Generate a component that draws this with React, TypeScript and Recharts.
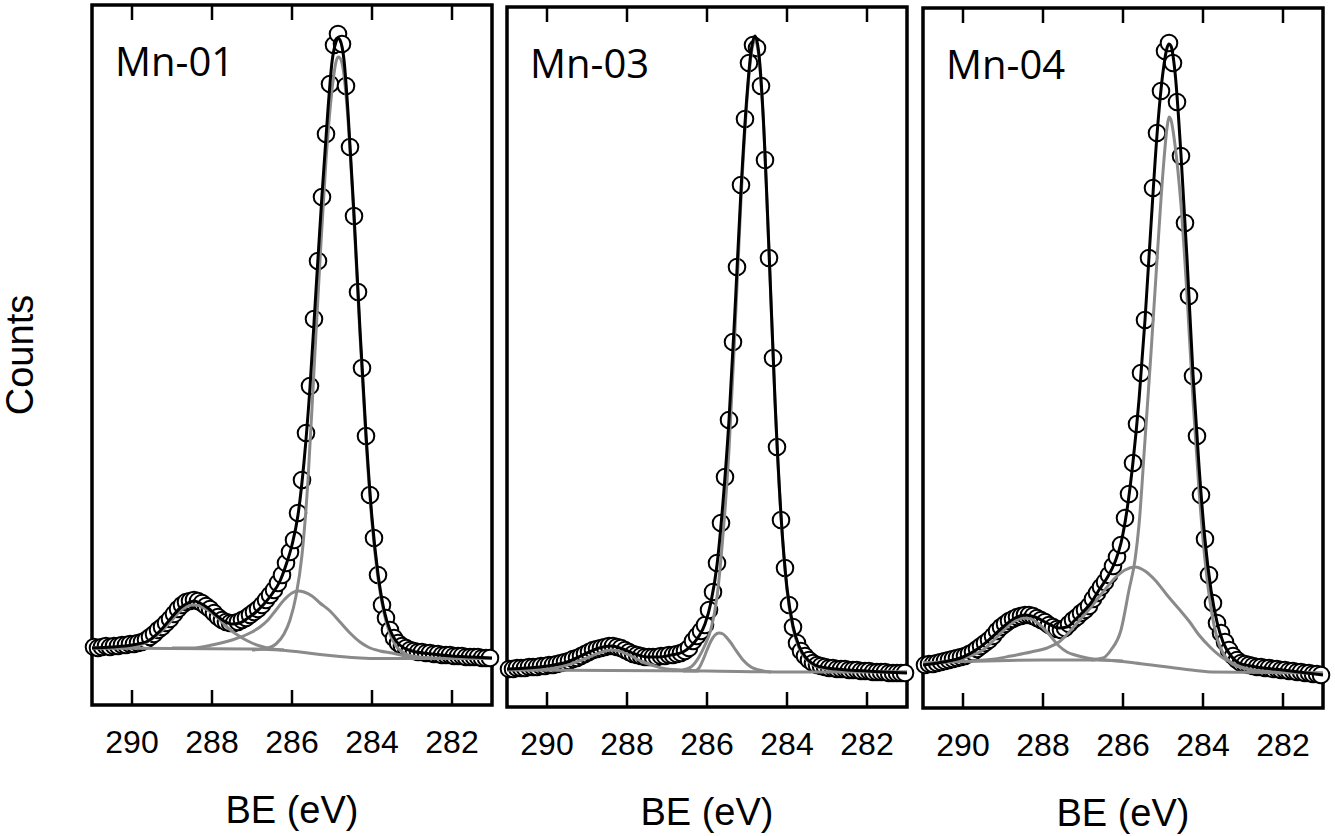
import React from 'react';
import { ComposedChart, Scatter, Line, XAxis, YAxis, ReferenceArea } from 'recharts';

// binding energy of each recorded point (eV), 0.1 eV steps, high -> low
const BE_GRID = Array.from({ length: 100 }, (_, i) => +(290.95 - 0.1 * i).toFixed(2));
const BE_TICKS = [290, 288, 286, 284, 282];

// counts, arbitrary units
const MN01_OBS = [
  58, 57, 58, 59, 58, 59, 59, 60, 60, 61,
  61, 62, 63, 65, 68, 71, 75, 78, 82, 86,
  91, 96, 100, 103, 104, 105, 104, 102, 99, 96,
  92, 88, 85, 83, 82, 82, 83, 85, 87, 90,
  93, 96, 100, 105, 110, 115, 122, 130, 142, 153,
  165, 192, 225, 272, 319, 386, 444, 508, 571, 621,
  660, 671, 661, 619, 558, 489, 413, 337, 269, 210,
  167, 130, 100, 87, 75, 67, 62, 59, 57, 55,
  54, 53, 53, 52, 52, 51, 51, 50, 50, 50,
  49, 49, 49, 48, 48, 48, 48, 47, 47, 47,
];
const MN03_OBS = [
  38, 38, 39, 39, 39, 40, 40, 40, 41, 41,
  42, 42, 43, 44, 45, 46, 48, 49, 51, 53,
  55, 57, 58, 59, 60, 61, 61, 60, 59, 57,
  55, 53, 52, 51, 50, 50, 50, 50, 51, 51,
  52, 52, 53, 54, 56, 59, 66, 71, 76, 82,
  97, 115, 144, 184, 230, 287, 365, 440, 522, 588,
  644, 662, 659, 621, 547, 449, 349, 260, 187, 139,
  102, 80, 64, 56, 51, 47, 44, 42, 41, 40,
  39, 39, 38, 38, 38, 37, 37, 37, 36, 36,
  36, 35, 35, 35, 35, 34, 34, 34, 34, 34,
];
const MN04_OBS = [
  43, 44, 44, 45, 46, 47, 48, 49, 50, 51,
  52, 54, 56, 59, 62, 65, 68, 72, 77, 81,
  84, 87, 89, 91, 92, 93, 93, 92, 90, 88,
  86, 83, 81, 79, 78, 80, 84, 88, 91, 95,
  98, 102, 109, 115, 121, 126, 133, 142, 151, 163,
  190, 214, 245, 284, 335, 388, 450, 520, 575, 617,
  657, 665, 645, 606, 552, 485, 412, 332, 272, 213,
  169, 133, 105, 85, 75, 66, 58, 52, 48, 45,
  44, 43, 42, 41, 41, 40, 40, 39, 39, 38,
  38, 37, 37, 36, 36, 35, 35, 34, 34, 33,
];

// fitted envelope and components: [BE, counts]
const MN01_FIT = [
  [291.0, 57], [290.5, 58], [290.0, 60], [289.6, 64], [289.3, 74], [289.0, 88], [288.8, 97],
  [288.6, 102], [288.45, 104], [288.3, 102], [288.1, 97], [287.9, 90], [287.7, 84], [287.5, 81],
  [287.3, 82], [287.1, 87], [286.9, 93], [286.7, 101], [286.5, 111], [286.3, 124], [286.15, 140],
  [286.0, 160], [285.85, 190], [285.7, 243], [285.55, 318], [285.4, 415], [285.25, 510],
  [285.1, 596], [285.0, 643], [284.9, 663], [284.85, 667], [284.8, 665], [284.7, 645],
  [284.6, 593], [284.45, 491], [284.3, 375], [284.15, 271], [284.0, 187], [283.85, 131],
  [283.7, 95], [283.55, 75], [283.4, 64], [283.2, 57], [283.0, 54], [282.5, 51], [282.0, 49],
  [281.5, 48], [281.0, 47],
];
const MN01_BG = [
  [291.0, 57], [287.0, 56], [286.3, 55], [285.8, 53], [285.3, 50.5], [284.8, 48.5],
  [284.3, 47], [283.8, 46.5], [281.0, 46.5],
];
const MN01_C1 = [
  [287.0, 55], [286.6, 57], [286.4, 61], [286.2, 71], [286.05, 85], [285.9, 109], [285.75, 150],
  [285.6, 225], [285.45, 335], [285.3, 445], [285.15, 545], [285.0, 615], [284.9, 643],
  [284.85, 648], [284.8, 647], [284.7, 630], [284.6, 585], [284.45, 485], [284.3, 370],
  [284.15, 265], [284.0, 183], [283.85, 127], [283.7, 92], [283.55, 71], [283.4, 59],
  [283.2, 52], [283.0, 49], [282.5, 47], [281.0, 46.5],
];
const MN01_C2 = [
  [289.0, 57], [288.5, 57], [288.0, 60], [287.5, 65], [287.0, 73], [286.8, 78], [286.6, 85],
  [286.4, 95], [286.2, 105], [286.0, 112], [285.85, 114], [285.7, 113], [285.5, 109],
  [285.3, 102], [285.05, 94], [284.8, 83], [284.55, 72], [284.3, 63], [284.1, 58], [283.8, 54],
  [283.5, 52], [283.0, 48], [282.5, 47],
];
const MN01_C3 = [
  [291.0, 57], [290.2, 57], [289.8, 60], [289.5, 66], [289.2, 76], [289.0, 85], [288.8, 94],
  [288.6, 99], [288.5, 100], [288.4, 100], [288.2, 97], [288.0, 92], [287.8, 85], [287.6, 77],
  [287.4, 71], [287.2, 66], [287.0, 62], [286.8, 59], [286.5, 56], [286.2, 55],
];

const MN03_FIT = [
  [291.0, 38], [290.0, 41], [289.5, 45], [289.0, 54], [288.7, 59], [288.4, 61], [288.1, 58],
  [287.8, 53], [287.5, 50], [287.2, 50], [286.9, 52], [286.6, 55], [286.4, 61], [286.2, 71],
  [286.05, 83], [285.9, 105], [285.75, 142], [285.6, 205], [285.45, 287], [285.3, 397],
  [285.15, 517], [285.0, 612], [284.9, 655], [284.8, 671], [284.7, 652], [284.6, 595],
  [284.45, 457], [284.3, 307], [284.15, 192], [284.0, 119], [283.85, 81], [283.7, 61],
  [283.5, 48], [283.3, 42], [283.0, 39], [282.0, 36], [281.0, 34],
];
const MN03_BG = [[291.0, 37], [286.0, 36], [284.0, 35], [281.0, 35]];
const MN03_C1 = [
  [286.6, 37], [286.4, 40], [286.2, 50], [286.05, 62], [285.9, 78], [285.75, 110], [285.6, 172],
  [285.45, 257], [285.3, 377], [285.15, 507], [285.0, 607], [284.9, 651], [284.8, 667],
  [284.7, 649], [284.6, 592], [284.45, 455], [284.3, 305], [284.15, 190], [284.0, 117],
  [283.85, 79], [283.7, 59], [283.5, 47], [283.3, 41], [283.0, 38], [282.5, 36], [281.0, 35],
];
const MN03_C2 = [
  [286.6, 36], [286.3, 36], [286.2, 39], [286.1, 47], [286.0, 57], [285.9, 66], [285.8, 72],
  [285.7, 74], [285.6, 73], [285.5, 69], [285.4, 64], [285.3, 58], [285.1, 47], [284.9, 40],
  [284.7, 37], [284.4, 35],
];
const MN03_C3 = [
  [290.5, 37], [290.0, 38], [289.5, 42], [289.0, 49], [288.7, 54], [288.4, 57], [288.2, 56],
  [287.9, 51], [287.6, 45], [287.3, 41], [287.0, 38], [286.6, 37], [286.2, 36],
];

const MN04_FIT = [
  [291.0, 43], [290.5, 46], [290.0, 51], [289.6, 60], [289.3, 70], [289.0, 81], [288.7, 90],
  [288.45, 93], [288.2, 91], [287.9, 85], [287.6, 80], [287.4, 81], [287.2, 88], [287.0, 96],
  [286.8, 105], [286.6, 118], [286.4, 130], [286.2, 146], [286.05, 165], [285.9, 198],
  [285.75, 246], [285.6, 308], [285.45, 388], [285.3, 483], [285.15, 573], [285.0, 636],
  [284.9, 660], [284.85, 664], [284.8, 662], [284.7, 636], [284.55, 553], [284.4, 450],
  [284.25, 334], [284.1, 242], [283.95, 168], [283.8, 118], [283.65, 86], [283.5, 66],
  [283.3, 52], [283.1, 45], [282.8, 42], [282.0, 38], [281.0, 33],
];
const MN04_BG = [
  [291.0, 45], [288.0, 48], [286.5, 48], [285.5, 44], [284.5, 39], [283.8, 36], [281.0, 35],
];
const MN04_C1 = [
  [286.8, 48], [286.5, 50], [286.3, 58], [286.05, 78], [285.85, 118], [285.7, 148], [285.6, 183],
  [285.45, 268], [285.3, 355], [285.15, 448], [285.0, 536], [284.9, 580], [284.85, 591],
  [284.8, 588], [284.7, 563], [284.55, 503], [284.4, 413], [284.25, 308], [284.1, 218],
  [283.95, 148], [283.8, 100], [283.65, 70], [283.5, 55], [283.3, 45], [283.0, 40],
  [282.5, 37], [281.0, 35],
];
const MN04_C2 = [
  [289.8, 47], [289.2, 49], [288.8, 52], [288.3, 56], [287.9, 60], [287.6, 66], [287.3, 78],
  [287.1, 87], [286.8, 101], [286.5, 116], [286.2, 130], [285.95, 138], [285.7, 141],
  [285.45, 137], [285.2, 128], [284.9, 113], [284.6, 99], [284.35, 87], [284.1, 73],
  [283.8, 60], [283.5, 50], [283.2, 44], [282.8, 38], [282.0, 35],
];
const MN04_C3 = [
  [291.0, 45], [290.5, 46], [289.9, 51], [289.5, 58], [289.2, 69], [288.9, 81], [288.7, 87],
  [288.5, 90], [288.3, 89], [288.1, 84], [287.9, 76], [287.6, 62], [287.4, 56], [287.2, 53],
  [286.9, 50], [286.5, 48], [286.0, 47],
];

const PLOT_H = 700;
const GRAY = '#8a8a8a';
const ARIAL = '"Liberation Sans", Arial, sans-serif';
const CHART_W = 440;
const CHART_H = PLOT_H + 70;
const MARGIN = { top: 5, right: 20, bottom: 0, left: 20 };

const toPts = (rows: number[][]) => rows.map(([x, y]) => ({ x, y }));

const PANELS = [
  { name: 'Mn-01', left: 92, top: 5, obs: MN01_OBS, fit: MN01_FIT, bg: MN01_BG, c1: MN01_C1, c2: MN01_C2, c3: MN01_C3 },
  { name: 'Mn-03', left: 507, top: 7, obs: MN03_OBS, fit: MN03_FIT, bg: MN03_BG, c1: MN03_C1, c2: MN03_C2, c3: MN03_C3 },
  { name: 'Mn-04', left: 923, top: 8, obs: MN04_OBS, fit: MN04_FIT, bg: MN04_BG, c1: MN04_C1, c2: MN04_C2, c3: MN04_C3 },
];

// inward ticks on bottom and top edge + the label under the frame
const FrameTick = (props: any) => {
  const { x, y, payload } = props;
  return (
    <g>
      <line x1={x} y1={y} x2={x} y2={y - 15} stroke="#000" strokeWidth={2.5} />
      <line x1={x} y1={y - PLOT_H} x2={x} y2={y - PLOT_H + 15} stroke="#000" strokeWidth={2.5} />
      <text x={x} y={y + 48} textAnchor="middle" fontFamily={ARIAL} fontSize={32} fill="#000">
        {payload.value}
      </text>
    </g>
  );
};

const OpenCircle = (props: any) => {
  const { cx, cy } = props;
  if (cx == null || cy == null) return null;
  return <circle cx={cx} cy={cy} r={8.3} fill="#fff" stroke="#000" strokeWidth={2} />;
};

const BEAxis = ({ withTicks }: { withTicks: boolean }) => (
  <XAxis
    type="number"
    dataKey="x"
    domain={[281, 291]}
    reversed
    ticks={BE_TICKS}
    height={65}
    axisLine={false}
    tickLine={false}
    tickSize={0}
    tickMargin={0}
    tick={withTicks ? FrameTick : false}
  />
);

const Panel = ({ p }: { p: (typeof PANELS)[number] }) => {
  const obs = BE_GRID.map((x, i) => ({ x, y: p.obs[i] }));
  const comps = [p.bg, p.c3, p.c2, p.c1];
  return (
    <div style={{ position: 'absolute', left: p.left - 20, top: p.top - 5, width: CHART_W, height: CHART_H }}>
      {/* frame, ticks and measured points */}
      <div style={{ position: 'absolute', left: 0, top: 0 }}>
        <ComposedChart width={CHART_W} height={CHART_H} margin={MARGIN}>
          {BEAxis({ withTicks: true })}
          <YAxis type="number" dataKey="y" domain={[0, PLOT_H]} hide />
          <ReferenceArea x1={281} x2={291} y1={0} y2={PLOT_H} fill="none" stroke="#000" strokeWidth={3.5} />
          <Scatter data={obs} dataKey="y" shape={OpenCircle} isAnimationActive={false} />
        </ComposedChart>
      </div>
      {/* fit curves drawn over the points */}
      <div style={{ position: 'absolute', left: 0, top: 0 }}>
        <ComposedChart width={CHART_W} height={CHART_H} margin={MARGIN}>
          {BEAxis({ withTicks: false })}
          <YAxis type="number" dataKey="y" domain={[0, PLOT_H]} hide />
          {comps.map((c, i) => (
            <Line
              key={i}
              data={toPts(c)}
              dataKey="y"
              type="monotone"
              stroke={GRAY}
              strokeWidth={3}
              dot={false}
              isAnimationActive={false}
            />
          ))}
          <Line
            data={toPts(p.fit)}
            dataKey="y"
            type="monotone"
            stroke="#000"
            strokeWidth={3}
            dot={false}
            isAnimationActive={false}
          />
        </ComposedChart>
      </div>
    </div>
  );
};

export default function App() {
  return (
    <div style={{ position: 'absolute', left: 0, top: 0, width: 1335, height: 836, background: '#fff', overflow: 'hidden' }}>
      {PANELS.map((p) => (
        <Panel key={p.name} p={p} />
      ))}
      <svg width={1335} height={836} style={{ position: 'absolute', left: 0, top: 0, pointerEvents: 'none' }}>
        {PANELS.map((p) => (
          <g key={p.name}>
            <text x={p.left + 23} y={p.top + 71} fontFamily='"Open Sans", sans-serif' fontSize={40} fill="#000">
              {p.name}
            </text>
            <text x={p.left + 200} y={p.top + 818} textAnchor="middle" fontFamily={ARIAL} fontSize={38} fill="#000">
              BE (eV)
            </text>
          </g>
        ))}
        <text x={33} y={355} transform="rotate(-90, 33, 355)" textAnchor="middle" fontFamily={ARIAL} fontSize={38} fill="#000">
          Counts
        </text>
      </svg>
    </div>
  );
}
